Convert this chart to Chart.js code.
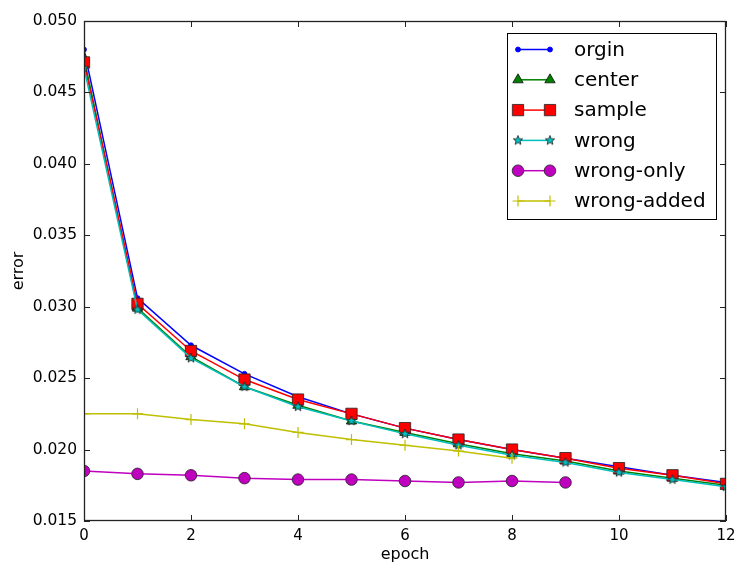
<!DOCTYPE html>
<html>
<head>
<meta charset="utf-8">
<script src="https://cdn.jsdelivr.net/npm/chart.js@4.4.1/dist/chart.umd.min.js"></script>
<style>
  html, body { margin: 0; padding: 0; background: #fff; }
  #wrap { width: 737px; height: 564px; }
</style>
</head>
<body>
<div id="wrap"><canvas id="errChart" width="737" height="564"></canvas></div>
<script>
// epochs and error values
var epochs = [0, 1, 2, 3, 4, 5, 6, 7, 8, 9, 10, 11, 12];
var orgin = [0.0480, 0.0306, 0.0273, 0.0253, 0.0237, 0.0225, 0.0215, 0.0207, 0.0200, 0.0194, 0.0188, 0.0182, 0.0177];
var center = [0.0474, 0.0299, 0.0265, 0.0244, 0.0231, 0.0220, 0.0212, 0.0204, 0.0197, 0.0192, 0.0185, 0.0180, 0.0175];
var sample = [0.0471, 0.0302, 0.0269, 0.0249, 0.0235, 0.0225, 0.0215, 0.0207, 0.0200, 0.0194, 0.0187, 0.0182, 0.0176];
var wrong = [0.0467, 0.0298, 0.0264, 0.0244, 0.0230, 0.0220, 0.0211, 0.0203, 0.0196, 0.0191, 0.0184, 0.0179, 0.0174];
var wrongOnly = [0.0185, 0.0183, 0.0182, 0.0180, 0.0179, 0.0179, 0.0178, 0.0177, 0.0178, 0.0177];
var wrongAdded = [0.0225, 0.0225, 0.0221, 0.0218, 0.0212, 0.0207, 0.0203, 0.0199, 0.0194];
var xTicks = [0, 2, 4, 6, 8, 10, 12];
var yTicks = [0.015, 0.020, 0.025, 0.030, 0.035, 0.040, 0.045, 0.050];

function pts(ys) {
    return ys.map(function (y, i) { return { x: epochs[i], y: y }; });
}

// filled five point star like matplotlib's '*'
function makeStar(r, fill) {
    var c = document.createElement('canvas');
    c.width = c.height = r * 2 + 2;
    var g = c.getContext('2d');
    g.beginPath();
    for (var i = 0; i < 10; i++) {
        var a = -Math.PI / 2 + i * Math.PI / 5;
        var rr = i % 2 === 0 ? r : r * 0.42;
        g.lineTo(r + 1 + rr * Math.cos(a), r + 1 + rr * Math.sin(a));
    }
    g.closePath();
    g.fillStyle = fill;
    g.fill();
    g.lineWidth = 0.8;
    g.strokeStyle = '#222';
    g.stroke();
    return c;
}
var starImg = makeStar(5, '#00bfbf');

var FONT = 'DejaVu Sans';

var series = [
    { label: 'orgin', data: pts(orgin), color: '#0000ff', style: 'circle', r: 2.5, edge: '#0000ff' },
    { label: 'center', data: pts(center), color: '#008000', style: 'triangle', r: 6, edge: '#111' },
    { label: 'sample', data: pts(sample), color: '#ff0000', style: 'rect', r: 8, edge: '#222' },
    { label: 'wrong', data: pts(wrong), color: '#00bfbf', style: starImg, r: 5, edge: '#222' },
    { label: 'wrong-only', data: pts(wrongOnly), color: '#bf00bf', style: 'circle', r: 5.8, edge: '#222' },
    { label: 'wrong-added', data: pts(wrongAdded), color: '#bfbf00', style: 'cross', r: 5.5, edge: '#bfbf00' }
];

var datasets = series.map(function (s, i) {
    return {
        label: s.label,
        data: s.data,
        borderColor: s.color,
        backgroundColor: s.color,
        borderWidth: 1.5,
        pointStyle: s.style,
        pointRadius: s.r,
        pointBackgroundColor: s.color,
        pointBorderColor: s.edge,
        pointBorderWidth: s.style === 'cross' ? 1.2 : 0.8,
        tension: 0,
        order: series.length - i
    };
});

// matplotlib-ish frame, inward ticks and boxed legend
var framePlugin = {
    id: 'frame',
    afterDraw: function (chart) {
        var ctx = chart.ctx, a = chart.chartArea;
        var xs = chart.scales.x, ys = chart.scales.y;
        ctx.save();
        ctx.strokeStyle = '#222';
        ctx.lineWidth = 1.3;
        ctx.strokeRect(a.left + 0.5, a.top + 0.5, a.right - a.left - 1, a.bottom - a.top - 1);
        var tl = 6;
        ctx.lineWidth = 1;
        ctx.beginPath();
        xTicks.forEach(function (v) {
            var px = Math.round(xs.getPixelForValue(v)) + 0.5;
            ctx.moveTo(px, a.bottom); ctx.lineTo(px, a.bottom - tl);
            ctx.moveTo(px, a.top); ctx.lineTo(px, a.top + tl);
        });
        yTicks.forEach(function (v) {
            var py = Math.round(ys.getPixelForValue(v)) + 0.5;
            ctx.moveTo(a.left, py); ctx.lineTo(a.left + tl, py);
            ctx.moveTo(a.right, py); ctx.lineTo(a.right - tl, py);
        });
        ctx.stroke();

        // legend box
        var bx = 507, by = 33, bw = 209, bh = 186;
        ctx.fillStyle = '#fff';
        ctx.fillRect(bx, by, bw, bh);
        ctx.lineWidth = 1;
        ctx.strokeStyle = '#000';
        ctx.strokeRect(bx + 0.5, by + 0.5, bw, bh);
        ctx.font = '20px "' + FONT + '"';
        ctx.textBaseline = 'middle';
        ctx.textAlign = 'left';
        chart.data.datasets.forEach(function (ds, i) {
            var y = 49.5 + i * 30.3;
            var x1 = 518, x2 = 550;
            ctx.strokeStyle = ds.borderColor;
            ctx.lineWidth = ds.borderWidth;
            ctx.beginPath();
            ctx.moveTo(x1, y); ctx.lineTo(x2, y);
            ctx.stroke();
            [x1, x2].forEach(function (x) {
                ctx.fillStyle = ds.pointBackgroundColor;
                ctx.strokeStyle = ds.pointBorderColor;
                ctx.lineWidth = ds.pointBorderWidth;
                Chart.helpers.drawPoint(ctx, {
                    pointStyle: ds.pointStyle,
                    radius: ds.pointRadius,
                    rotation: 0,
                    borderWidth: ds.pointBorderWidth
                }, x, y);
            });
            ctx.fillStyle = '#000';
            ctx.fillText(ds.label, 574, y + 1);
        });
        ctx.restore();
    }
};

new Chart(document.getElementById('errChart').getContext('2d'), {
    type: 'line',
    data: { datasets: datasets },
    options: {
        responsive: false,
        animation: false,
        layout: { padding: { top: 21, right: 11, left: 0, bottom: 0 } },
        plugins: {
            legend: { display: false },
            tooltip: { enabled: false }
        },
        scales: {
            x: {
                type: 'linear',
                min: 0,
                max: 12,
                afterBuildTicks: function (s) { s.ticks = xTicks.map(function (v) { return { value: v }; }); },
                afterFit: function (s) { s.height = 43; s.paddingLeft = 0; s.paddingRight = 0; },
                grid: { display: false, drawTicks: false },
                border: { display: false },
                ticks: { color: '#000', padding: 6, maxRotation: 0, font: { family: FONT, size: 15 } },
                title: { display: true, text: 'epoch', color: '#000', padding: { top: 0, bottom: 0 }, font: { family: FONT, size: 16 } }
            },
            y: {
                min: 0.015,
                max: 0.050,
                afterBuildTicks: function (s) { s.ticks = yTicks.map(function (v) { return { value: v }; }); },
                afterFit: function (s) { s.width = 84; s.paddingTop = 0; s.paddingBottom = 0; },
                grid: { display: false, drawTicks: false },
                border: { display: false },
                ticks: {
                    color: '#000',
                    padding: 7,
                    font: { family: FONT, size: 15.5 },
                    callback: function (v) { return Number(v).toFixed(3); }
                },
                title: { display: true, text: 'error', color: '#000', padding: { top: 9, bottom: 0 }, font: { family: FONT, size: 16 } }
            }
        }
    },
    plugins: [framePlugin]
});
</script>
</body>
</html>
